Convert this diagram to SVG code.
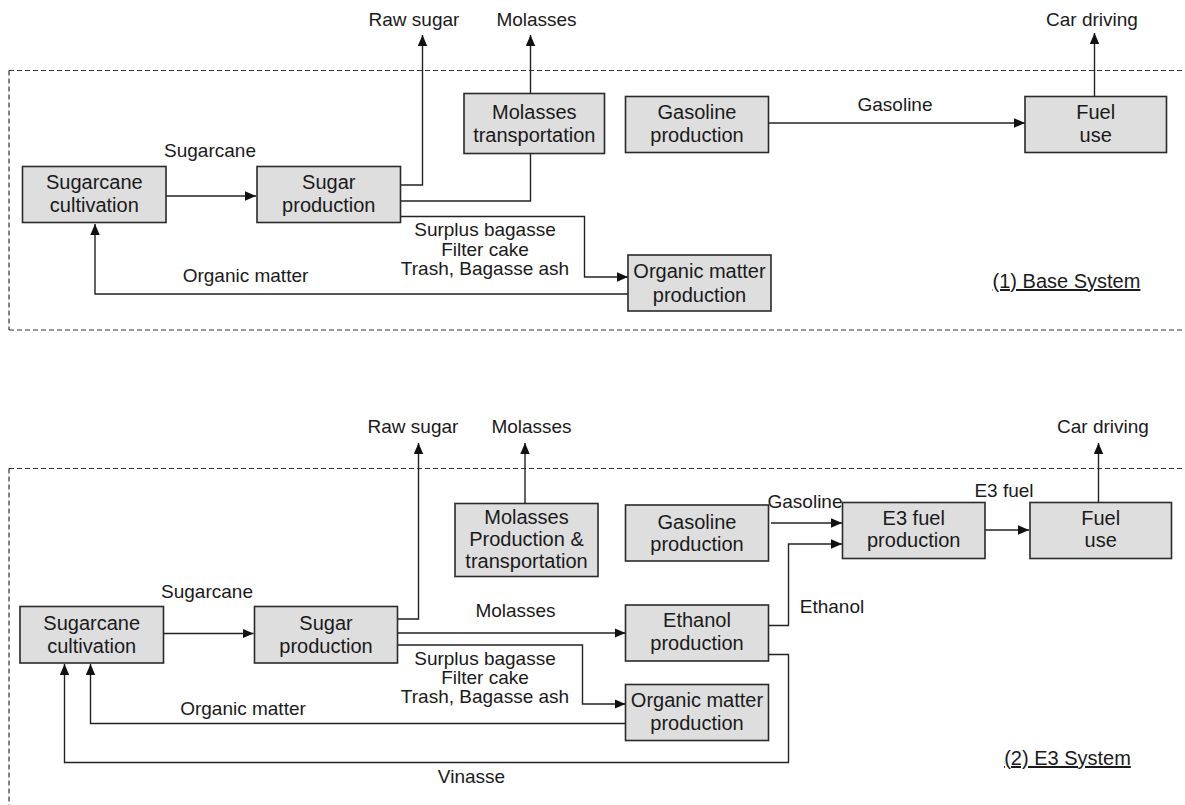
<svg xmlns="http://www.w3.org/2000/svg" width="1185" height="805" viewBox="0 0 1185 805">
<style>
  .box rect { fill: #dedede; stroke: #2a2a2a; stroke-width: 1.6; }
  .box text { font-family: "Liberation Sans", Arial, sans-serif; font-size: 20px; fill: #1a1a1a; text-anchor: middle; }
  .lbl { font-family: "Liberation Sans", Arial, sans-serif; font-size: 19px; fill: #1a1a1a; text-anchor: middle; }
  .sys { font-family: "Liberation Sans", Arial, sans-serif; font-size: 20px; fill: #1a1a1a; text-anchor: middle; text-decoration: underline; }
  .conn path { fill: none; stroke: #222; stroke-width: 1.4; }
  .dash path { fill: none; stroke: #333; stroke-width: 1.2; stroke-dasharray: 5 3; }
</style>
<defs>
  <marker id="arr" markerUnits="userSpaceOnUse" markerWidth="12" markerHeight="10" refX="11" refY="4.75" orient="auto">
    <path d="M0,0 L11,4.75 L0,9.5 z" fill="#111"/>
  </marker>
</defs>
<rect width="1185" height="805" fill="#fff"/>

<g class="dash">
  <path d="M9,70.5 H1185 M9,70.5 V330 M9,330 H1185"/>
  <path d="M9,468.5 H1185 M9,468.5 V805"/>
</g>

<g class="conn">
  <!-- top system -->
  <path d="M166,196 H256" marker-end="url(#arr)"/>
  <path d="M400.5,185 H422.5 V35" marker-end="url(#arr)"/>
  <path d="M400.5,201 H530.5 V153.5"/>
  <path d="M530.5,93.5 V35" marker-end="url(#arr)"/>
  <path d="M400.5,216.5 H584.5 V277 H628" marker-end="url(#arr)"/>
  <path d="M628,294 H95 V224" marker-end="url(#arr)"/>
  <path d="M768.5,123 H1025" marker-end="url(#arr)"/>
  <path d="M1094.5,96.5 V33" marker-end="url(#arr)"/>
  <!-- E3 system -->
  <path d="M163.5,633.5 H253.5" marker-end="url(#arr)"/>
  <path d="M397.5,619 H418.5 V443" marker-end="url(#arr)"/>
  <path d="M525,503.5 V443" marker-end="url(#arr)"/>
  <path d="M397.5,633 H625.5" marker-end="url(#arr)"/>
  <path d="M397.5,645 H582.5 V704 H625.5" marker-end="url(#arr)"/>
  <path d="M625.5,723.5 H90.5 V664" marker-end="url(#arr)"/>
  <path d="M768.5,654.5 H788.5 V762.5 H64.5 V664" marker-end="url(#arr)"/>
  <path d="M768.5,625.5 H788.5 V544 H842" marker-end="url(#arr)"/>
  <path d="M771,523 H842" marker-end="url(#arr)"/>
  <path d="M985,530 H1029" marker-end="url(#arr)"/>
  <path d="M1098.5,502.5 V443" marker-end="url(#arr)"/>
</g>

<!-- top system nodes -->
<g id="base-sugarcane-cultivation" class="box">
  <rect x="22.5" y="166.5" width="143.5" height="56"/>
  <text x="94.3" y="189">Sugarcane</text>
  <text x="94.3" y="212">cultivation</text>
</g>
<g id="base-sugar-production" class="box">
  <rect x="257" y="166.5" width="143.5" height="56"/>
  <text x="328.8" y="189">Sugar</text>
  <text x="328.8" y="212">production</text>
</g>
<g id="base-molasses-transportation" class="box">
  <rect x="464" y="93.5" width="140.5" height="60"/>
  <text x="534.3" y="118.5">Molasses</text>
  <text x="534.3" y="142">transportation</text>
</g>
<g id="base-gasoline-production" class="box">
  <rect x="625.5" y="96.5" width="143" height="56"/>
  <text x="697" y="119">Gasoline</text>
  <text x="697" y="142">production</text>
</g>
<g id="base-fuel-use" class="box">
  <rect x="1025" y="96.5" width="141.5" height="56"/>
  <text x="1095.7" y="119">Fuel</text>
  <text x="1095.7" y="142">use</text>
</g>
<g id="base-organic-matter-production" class="box">
  <rect x="628" y="255" width="143" height="56"/>
  <text x="699.5" y="278">Organic matter</text>
  <text x="699.5" y="301.5">production</text>
</g>

<!-- E3 system nodes -->
<g id="e3-sugarcane-cultivation" class="box">
  <rect x="20" y="606.5" width="143.5" height="56.5"/>
  <text x="91.7" y="630">Sugarcane</text>
  <text x="91.7" y="652.5">cultivation</text>
</g>
<g id="e3-sugar-production" class="box">
  <rect x="254.5" y="606.5" width="143" height="56.5"/>
  <text x="326" y="630">Sugar</text>
  <text x="326" y="652.5">production</text>
</g>
<g id="e3-molasses-production" class="box">
  <rect x="455" y="503.5" width="143" height="73"/>
  <text x="526.5" y="524">Molasses</text>
  <text x="526.5" y="546">Production &amp;</text>
  <text x="526.5" y="568">transportation</text>
</g>
<g id="e3-gasoline-production" class="box">
  <rect x="625.5" y="505" width="143" height="56"/>
  <text x="697" y="528.5">Gasoline</text>
  <text x="697" y="550.5">production</text>
</g>
<g id="e3-fuel-production" class="box">
  <rect x="842.5" y="502.5" width="142.5" height="56"/>
  <text x="913.7" y="525">E3 fuel</text>
  <text x="913.7" y="547">production</text>
</g>
<g id="e3-fuel-use" class="box">
  <rect x="1030" y="502.5" width="141.5" height="56"/>
  <text x="1100.7" y="525">Fuel</text>
  <text x="1100.7" y="547">use</text>
</g>
<g id="e3-ethanol-production" class="box">
  <rect x="625.5" y="605" width="143" height="56"/>
  <text x="697" y="627">Ethanol</text>
  <text x="697" y="649.5">production</text>
</g>
<g id="e3-organic-matter-production" class="box">
  <rect x="625.5" y="684.5" width="143" height="56"/>
  <text x="697" y="707">Organic matter</text>
  <text x="697" y="730">production</text>
</g>

<g id="labels">
  <text class="lbl" x="414" y="26">Raw sugar</text>
  <text class="lbl" x="536.5" y="26">Molasses</text>
  <text class="lbl" x="1092" y="26">Car driving</text>
  <text class="lbl" x="210" y="156.5">Sugarcane</text>
  <text class="lbl" x="245.5" y="281.5">Organic matter</text>
  <text class="lbl" x="485" y="236">Surplus bagasse</text>
  <text class="lbl" x="485" y="256">Filter cake</text>
  <text class="lbl" x="485" y="275">Trash, Bagasse ash</text>
  <text class="lbl" x="895" y="111">Gasoline</text>
  <text class="sys" x="1066.5" y="288">(1) Base System</text>

  <text class="lbl" x="413" y="433">Raw sugar</text>
  <text class="lbl" x="531.5" y="433">Molasses</text>
  <text class="lbl" x="1103" y="433">Car driving</text>
  <text class="lbl" x="207" y="598">Sugarcane</text>
  <text class="lbl" x="515.5" y="616.5">Molasses</text>
  <text class="lbl" x="485" y="665">Surplus bagasse</text>
  <text class="lbl" x="485" y="684">Filter cake</text>
  <text class="lbl" x="485" y="703">Trash, Bagasse ash</text>
  <text class="lbl" x="243" y="715">Organic matter</text>
  <text class="lbl" x="471.5" y="783">Vinasse</text>
  <text class="lbl" x="805" y="508">Gasoline</text>
  <text class="lbl" x="832" y="613">Ethanol</text>
  <text class="lbl" x="1004" y="496.5">E3 fuel</text>
  <text class="sys" x="1067.5" y="765">(2) E3 System</text>
</g>
</svg>
